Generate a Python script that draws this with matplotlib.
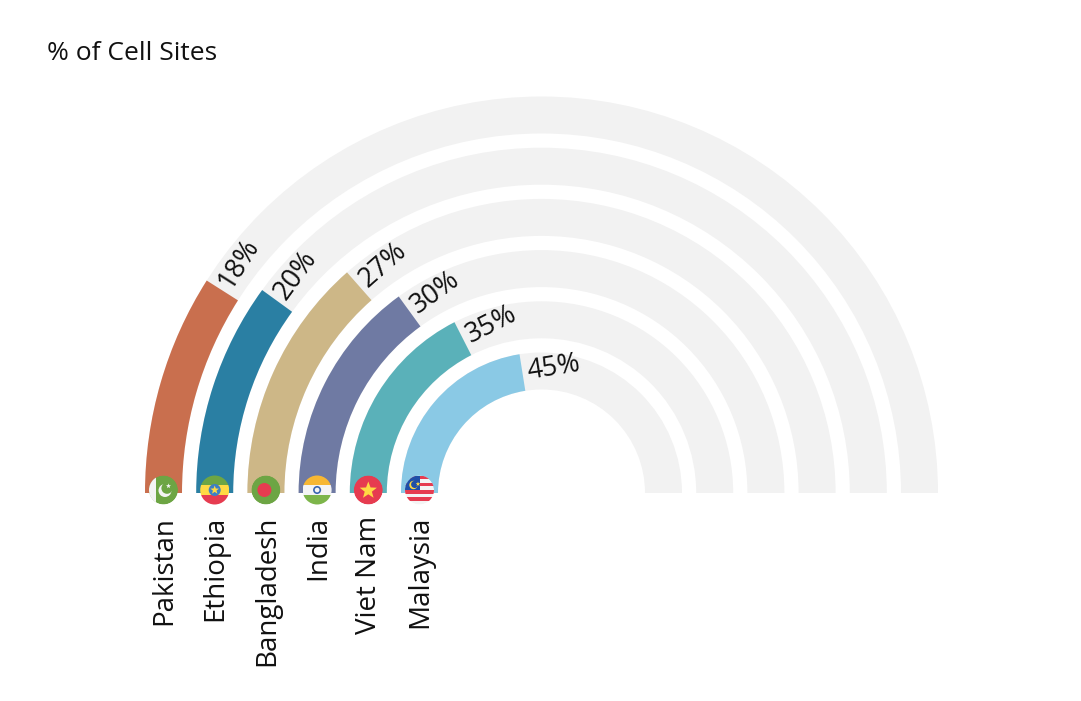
import numpy as np
import matplotlib
matplotlib.use('Agg')
import matplotlib.pyplot as plt
from matplotlib.patches import Wedge, Circle, Rectangle, Polygon

countries = ['Pakistan', 'Ethiopia', 'Bangladesh', 'India', 'Viet Nam', 'Malaysia']
values = [18, 20, 27, 30, 35, 45]
value_labels = ['18%', '20%', '27%', '30%', '35%', '45%']
colors = ['#c96f4e', '#2a7fa3', '#cdb787', '#6f7aa3', '#5ab1b9', '#8ac9e5']
title = '% of Cell Sites'

W, H = 1081, 701
FONT = 'Open Sans'
GRAY = '#f2f2f2'
fig = plt.figure(figsize=(W / 100, H / 100), dpi=100)
ax = fig.add_axes([0, 0, 1, 1])
ax.set_xlim(0, W)
ax.set_ylim(0, H)
ax.set_aspect('equal')
ax.axis('off')

cx, cy = 541.5, H - 493
r0, step, width = 396.5, 51.2, 37.0

GREEN, RED, YEL, BLUE, WHITE = '#6da544', '#e63c50', '#ffda44', '#1f5fb4', '#f4f4f4'


def star(x, y, R, color, clip, z):
    pts = []
    for k in range(10):
        a = np.pi / 2 + k * np.pi / 5
        rr = R if k % 2 == 0 else R * 0.42
        pts.append((x + rr * np.cos(a), y + rr * np.sin(a)))
    p = Polygon(pts, closed=True, fc=color, ec='none', zorder=z)
    ax.add_patch(p)
    p.set_clip_path(clip)


def flag(name, x, y, r):
    z = 5
    clip = Circle((x, y), r, transform=ax.transData)
    def add(p):
        p.set_zorder(z)
        ax.add_patch(p)
        p.set_clip_path(clip)
    if name == 'Pakistan':
        add(Circle((x, y), r, fc=GREEN, ec='none'))
        add(Rectangle((x - r, y - r), 0.5 * r, 2 * r, fc=WHITE, ec='none'))
        add(Circle((x + 1.5, y - 0.5), 6.5, fc=WHITE, ec='none'))
        add(Circle((x + 3.5, y + 1.8), 5.6, fc=GREEN, ec='none'))
        star(x + 5, y + 4, 2.6, WHITE, clip, z)
    elif name == 'Ethiopia':
        add(Rectangle((x - r, y + r / 3), 2 * r, r, fc=GREEN, ec='none'))
        add(Rectangle((x - r, y - r / 3), 2 * r, 2 * r / 3, fc=YEL, ec='none'))
        add(Rectangle((x - r, y - r), 2 * r, 2 * r / 3, fc=RED, ec='none'))
        add(Circle((x, y), 6, fc='#3d7fc4', ec='none'))
        star(x, y, 4.5, YEL, clip, z)
    elif name == 'Bangladesh':
        add(Circle((x, y), r, fc=GREEN, ec='none'))
        add(Circle((x - 1.5, y), 7, fc=RED, ec='none'))
    elif name == 'India':
        add(Rectangle((x - r, y + r / 3), 2 * r, r, fc='#f7b733', ec='none'))
        add(Rectangle((x - r, y - r / 3), 2 * r, 2 * r / 3, fc=WHITE, ec='none'))
        add(Rectangle((x - r, y - r), 2 * r, 2 * r / 3, fc='#7db54a', ec='none'))
        add(Circle((x, y), 3.2, fc='none', ec='#3a66b0', lw=1.2))
    elif name == 'Viet Nam':
        add(Circle((x, y), r, fc=RED, ec='none'))
        star(x, y - 0.5, 9, YEL, clip, z)
    elif name == 'Malaysia':
        add(Circle((x, y), r, fc=WHITE, ec='none'))
        n = 8
        h = 2 * r / n
        for k in range(0, n, 2):
            add(Rectangle((x - r, y + r - (k + 1) * h), 2 * r, h, fc=RED, ec='none'))
        add(Rectangle((x - r, y), r, r, fc='#1f4fa8', ec='none'))
        add(Circle((x - 6, y + 5), 4.2, fc=YEL, ec='none'))
        add(Circle((x - 4.8, y + 5.6), 3.6, fc='#1f4fa8', ec='none'))
        star(x - 1.5, y + 6, 2.4, YEL, clip, z)


for i, (name, v, lab, col) in enumerate(zip(countries, values, value_labels, colors)):
    ro = r0 - step * i
    rm = ro - width / 2
    ax.add_patch(Wedge((cx, cy), ro, 0, 180, width=width, fc=GRAY, ec='none', zorder=1))
    th_end = 180 - v * 1.8
    ax.add_patch(Wedge((cx, cy), ro, th_end, 180, width=width, fc=col, ec='none', zorder=2))
    th_txt = np.radians(th_end - np.degrees(5.0 / rm))
    ax.text(cx + rm * np.cos(th_txt), cy + rm * np.sin(th_txt), lab,
            rotation=th_end - 90, rotation_mode='anchor', ha='left', va='center',
            fontsize=19.5, family=FONT, color='#111111', zorder=4)
    fx = cx - rm
    flag(name, fx, cy + 3, 14.5)
    ax.text(fx + 1, cy - 23, name, rotation=90, ha='center', va='top',
            fontsize=20, family=FONT, color='#111111', zorder=4)

ax.text(47, H - 53, title, ha='left', va='center', fontsize=19, family=FONT, color='#111111')

fig.savefig('out.png', dpi=100)
